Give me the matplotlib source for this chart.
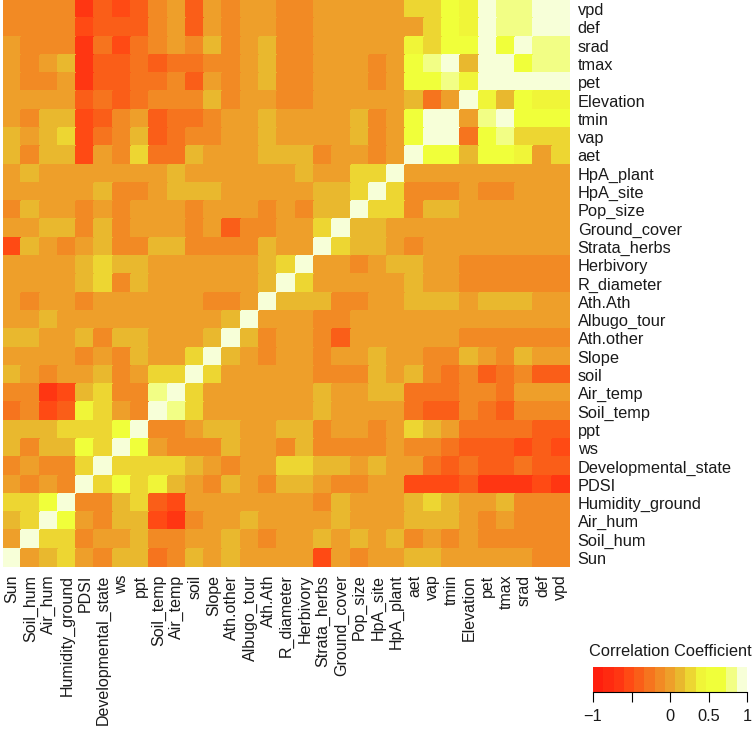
import matplotlib
matplotlib.use("Agg")
import matplotlib.pyplot as plt
import numpy as np
from matplotlib.colors import ListedColormap, BoundaryNorm

plt.rcParams['font.family'] = ['Liberation Sans', 'DejaVu Sans']

col_labels = ["Sun","Soil_hum","Air_hum","Humidity_ground","PDSI","Developmental_state","ws","ppt",
              "Soil_temp","Air_temp","soil","Slope","Ath.other","Albugo_tour","Ath.Ath","R_diameter",
              "Herbivory","Strata_herbs","Ground_cover","Pop_size","HpA_site","HpA_plant","aet","vap",
              "tmin","Elevation","pet","tmax","srad","def","vpd"]

# correlation coefficients x100, one list per row, in column order of col_labels
vpd = [-13,-13,-13,-13,-67,-40,-53,-40,-13,0,-40,0,-13,0,0,-13,-13,0,0,0,0,0,27,27,53,40,100,80,80,100,100]
def_ = [-13,-13,-13,-13,-53,-40,-40,-40,-13,0,-40,0,-13,0,0,-13,-13,0,0,0,0,0,0,27,53,40,100,80,80,100,100]
srad = [0,-13,-13,-13,-67,-27,-53,-27,-13,0,-13,13,-13,0,13,-13,-13,0,0,0,0,0,40,27,53,53,100,53,100,80,80]
tmax = [0,-13,0,13,-67,-40,-40,-27,-40,-27,-27,-13,-13,0,13,-13,-13,0,0,0,-13,0,53,80,100,13,100,100,53,80,80]
pet = [0,-13,-13,0,-67,-40,-40,-27,-27,-13,-40,0,-13,0,13,-13,-13,0,0,0,-13,0,53,53,80,40,100,100,100,100,100]
Elevation = [0,0,0,0,-40,-27,-40,-27,-13,-13,-13,13,-13,0,0,-13,-13,0,0,0,0,0,13,-27,0,100,40,13,53,40,40]
tmin = [0,-13,13,13,-53,-40,-13,0,-40,-27,-27,-13,0,0,13,0,0,0,0,13,-13,0,53,100,100,0,80,100,53,53,53]
vap = [13,0,13,27,-53,-27,-13,13,-40,-27,-13,-13,0,0,13,0,0,0,0,13,-13,0,53,100,100,-27,53,80,27,27,27]
aet = [13,-13,13,13,-53,0,-13,27,-27,-27,13,0,0,0,13,13,13,-13,0,0,-13,0,100,53,53,13,53,53,40,0,27]
HpA_plant = [0,13,0,0,0,0,0,0,0,13,0,0,0,0,0,0,13,0,0,27,27,100,0,0,0,0,0,0,0,0,0]
HpA_site = [0,0,0,0,0,13,-13,-13,0,13,13,13,0,0,0,0,0,13,13,27,100,27,-13,-13,-13,0,-13,-13,0,0,0]
Pop_size = [-13,13,0,0,-13,0,-13,0,0,0,-13,0,0,0,-13,0,-13,13,13,100,27,27,-13,13,13,0,0,0,0,0,0]
Ground_cover = [0,0,13,13,-13,13,-13,0,0,0,-13,0,-40,-13,-13,0,0,27,100,13,13,0,0,0,0,0,0,0,0,0,0]
Strata_herbs = [-53,13,0,-13,0,13,-13,-13,13,13,-13,-13,-13,-13,13,0,0,100,27,13,13,0,-13,0,0,0,0,0,0,0,0]
Herbivory = [0,0,0,0,13,27,13,13,0,0,0,0,0,0,13,27,100,0,0,-13,0,13,13,0,0,-13,-13,-13,-13,-13,-13]
R_diameter = [0,0,0,0,13,27,-13,13,0,0,0,0,0,0,13,100,27,0,0,0,0,0,13,0,0,-13,-13,-13,-13,-13,-13]
Ath_Ath = [0,-13,0,0,-13,0,0,0,0,0,0,-13,-13,0,100,13,13,13,-13,-13,0,0,13,13,13,0,13,13,13,0,0]
Albugo_tour = [0,0,13,0,0,0,0,0,0,0,0,0,13,100,0,0,0,-13,-13,0,0,0,0,0,0,0,0,0,0,0,0]
Ath_other = [13,13,0,0,13,-13,13,13,0,0,0,13,100,13,-13,0,0,-13,-40,0,0,0,0,0,0,-13,-13,-13,-13,-13,-13]
Slope = [0,0,0,0,-13,0,-13,13,0,0,27,100,13,0,-13,0,0,-13,0,0,13,0,0,-13,-13,13,0,-13,13,0,0]
soil = [13,0,-13,0,0,13,-13,0,27,27,100,27,0,0,0,0,0,-13,-13,-13,13,0,13,-13,-27,-13,-40,-27,-13,-40,-40]
Air_temp = [-13,-13,-67,-53,13,27,-13,-13,80,100,27,0,0,0,0,0,0,13,0,0,13,13,-27,-27,-27,-13,-13,-27,0,0,0]
Soil_temp = [-27,-13,-53,-40,40,27,0,-13,100,80,27,0,0,0,0,0,0,13,0,0,0,0,-27,-40,-40,-13,-27,-40,-13,-13,-13]
ppt = [13,13,13,27,27,27,53,100,-13,-13,0,13,13,0,0,13,13,-13,0,0,-13,0,27,13,0,-27,-27,-27,-27,-40,-40]
ws = [13,-13,13,13,53,27,100,53,0,-13,-13,-13,13,0,0,-13,13,-13,-13,-13,-13,0,-13,-13,-27,-40,-40,-40,-53,-40,-53]
Developmental_state = [-13,0,-13,-13,27,100,27,27,27,27,13,0,-13,0,0,27,27,13,13,0,13,0,0,-27,-40,-27,-40,-40,-27,-40,-40]
PDSI = [0,-13,0,-13,100,27,53,27,40,13,0,-13,13,0,-13,13,13,0,-13,-13,0,0,-53,-53,-53,-40,-67,-67,-67,-53,-67]
Humidity_ground = [27,27,53,100,-13,-13,13,27,-40,-53,0,0,0,0,0,0,0,-13,13,0,0,0,13,27,13,0,0,13,-13,-13,-13]
Air_hum = [13,27,100,53,0,-13,13,13,-53,-67,-13,0,0,13,0,0,0,0,13,0,0,0,13,13,13,0,-13,0,-13,-13,-13]
Soil_hum = [0,100,27,27,-13,0,0,13,-13,-13,0,0,13,0,-13,0,0,13,0,13,0,13,-13,0,-13,0,-13,-13,-13,-13,-13]
Sun = [100,0,13,27,0,-13,13,13,-27,-13,13,0,13,0,0,0,0,-53,0,-13,0,0,13,13,0,0,0,0,0,-13,-13]

rows = [vpd, def_, srad, tmax, pet, Elevation, tmin, vap, aet, HpA_plant, HpA_site, Pop_size,
        Ground_cover, Strata_herbs, Herbivory, R_diameter, Ath_Ath, Albugo_tour, Ath_other, Slope,
        soil, Air_temp, Soil_temp, ppt, ws, Developmental_state, PDSI, Humidity_ground, Air_hum,
        Soil_hum, Sun]
matrix = np.array(rows, dtype=float) / 100.0
row_labels = col_labels[::-1]

palette = ["#FF1F0E","#FF2A10","#FF3612","#FF4A14","#FA5E18","#F6741E","#F28A24","#EE9F2A",
           "#E9B82E","#EDD632","#F0F538","#F0FF3A","#F0FF3A","#F2FE85","#F7FFD8"]
bounds = np.linspace(-1, 1, 16)
cmap = ListedColormap(palette)
norm = BoundaryNorm(bounds, cmap.N)
FS = 11.8
FS_X = 11.5
TXT = '#1a1a1a'

W, H = 753, 730
fig = plt.figure(figsize=(W/100, H/100), dpi=100)
ax = fig.add_axes([3/W, 1-567/H, 567/W, 567/H])
ax.pcolormesh(np.arange(32), np.arange(32), matrix, cmap=cmap, norm=norm, edgecolors='face', linewidth=0.1)
ax.set_xlim(0, 31)
ax.set_ylim(31, 0)
for s in ax.spines.values():
    s.set_visible(False)
ax.set_xticks(np.arange(31)+0.5)
ax.set_xticklabels(col_labels, rotation=90, ha='center', va='top', fontsize=FS_X, color=TXT)
ax.yaxis.tick_right()
ax.set_yticks(np.arange(31)+0.5)
ax.set_yticklabels(row_labels, fontsize=FS, color=TXT)
ax.tick_params(axis='x', length=0, pad=5.5)
ax.tick_params(axis='y', length=0, pad=5.5)

# colour key
cax = fig.add_axes([593/W, 1-692/H, 154/W, 25/H])
cax.pcolormesh(bounds, [0, 1], np.array([(bounds[:-1]+bounds[1:])/2]), cmap=cmap, norm=norm)
cax.set_xlim(-1, 1)
cax.set_yticks([])
for k in ['top', 'left', 'right']:
    cax.spines[k].set_visible(False)
cax.spines['bottom'].set_linewidth(0.8)
cax.set_xticks([-1, -0.5, 0, 0.5, 1])
cax.set_xticklabels(['\u22121', '', '0', '0.5', '1'], fontsize=FS, color=TXT)
cax.tick_params(axis='x', length=7.5, width=0.8, pad=5)
fig.text(670/W, 1-652/H, 'Correlation Coefficient', ha='center', va='center', fontsize=FS, color=TXT)

fig.savefig('out.png', dpi=100)
